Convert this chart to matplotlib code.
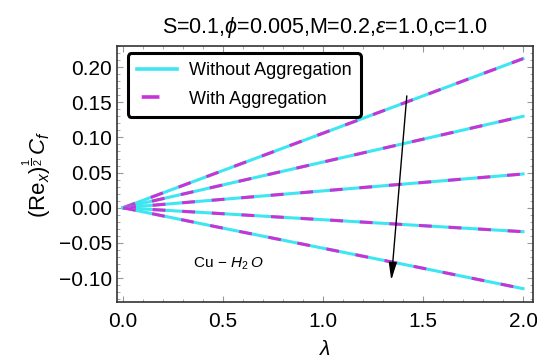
import matplotlib
matplotlib.use("Agg")
from matplotlib import pyplot as plt
from matplotlib.lines import Line2D
from matplotlib.ticker import MultipleLocator

plt.rcParams["font.family"] = ["Liberation Sans", "DejaVu Sans"]
plt.rcParams["mathtext.fontset"] = "custom"
plt.rcParams["mathtext.rm"] = "Liberation Sans"
plt.rcParams["mathtext.it"] = "Liberation Sans:italic"

# data
lam = [0.0, 0.5, 1.0, 1.5, 2.0]
cf_1 = [0.0, 0.053, 0.106, 0.159, 0.212]
cf_2 = [0.0, 0.0325, 0.065, 0.0975, 0.130]
cf_3 = [0.0, 0.012, 0.024, 0.036, 0.048]
cf_4 = [0.0, -0.0085, -0.017, -0.0255, -0.034]
cf_5 = [0.0, -0.029, -0.0575, -0.086, -0.115]
curves = [cf_1, cf_2, cf_3, cf_4, cf_5]

cyan = "#3ee6ef"
magenta = "#c833d6"
lw = 2.2

fig = plt.figure(figsize=(5.37, 3.61), dpi=100)
ax = fig.add_axes([0.218, 0.1634, 0.7746, 0.7092])

for cf in curves:
    ax.plot(lam, cf, color=cyan, lw=lw)
    ax.plot(lam, cf, color=magenta, lw=lw, dashes=(4.2, 5.5))

ax.set_xlim(-0.03, 2.05)
ax.set_ylim(-0.134, 0.23)
ax.xaxis.set_major_locator(MultipleLocator(0.5))
ax.xaxis.set_minor_locator(MultipleLocator(0.1))
ax.yaxis.set_minor_locator(MultipleLocator(0.01))
ax.set_yticks([-0.10, -0.05, 0.0, 0.05, 0.10, 0.15, 0.20])
ax.set_yticklabels(["\u22120.10", "\u22120.05", "0.00", "0.05", "0.10", "0.15", "0.20"])
ax.tick_params(which="both", direction="in", top=True, right=True,
               color="#999999", labelsize=15)
ax.tick_params(axis="x", which="both", pad=7)
ax.tick_params(which="major", length=4, width=0.8)
ax.tick_params(which="minor", length=2, width=0.6)
for s in ax.spines.values():
    s.set_linewidth(1.2)
    s.set_color("#333333")

ax.set_xlabel(r"$\lambda$", fontsize=15, labelpad=7)
ax.set_ylabel(r"$(\mathrm{Re}_x)^{\frac{1}{2}}\,C_f$", fontsize=16, labelpad=4)
ax.set_title(r"S=0.1,$\phi$=0.005,M=0.2,$\varepsilon$=1.0,c=1.0",
             fontsize=15.5, pad=9)

ax.annotate("", xy=(1.34, -0.107), xytext=(1.42, 0.163),
            arrowprops=dict(arrowstyle="-|>,head_length=0.75,head_width=0.17",
                            color="black", lw=1.0, mutation_scale=14))
ax.text(0.525, -0.079, r"Cu$\,-\,H_2\,O$", fontsize=11, ha="center", va="center")

# legend handles: solid cyan, one short magenta dash
px = 0.72 / lw
h1 = Line2D([], [], color=cyan, lw=2.6)
h2 = Line2D([], [], color=magenta, lw=2.6,
            linestyle=(51 * px, (15 * px, 40 * px)))
leg = ax.legend([h1, h2], ["Without Aggregation", "With Aggregation"],
                loc="upper left", bbox_to_anchor=(0.026, 0.973), borderaxespad=0,
                fontsize=13, frameon=True, fancybox=True, handlelength=2.2,
                borderpad=0.5, labelspacing=0.65, handletextpad=0.7)
leg.get_frame().set_edgecolor("black")
leg.get_frame().set_linewidth(2.2)
leg.get_frame().set_alpha(1)

fig.savefig("out.png", dpi=100)
